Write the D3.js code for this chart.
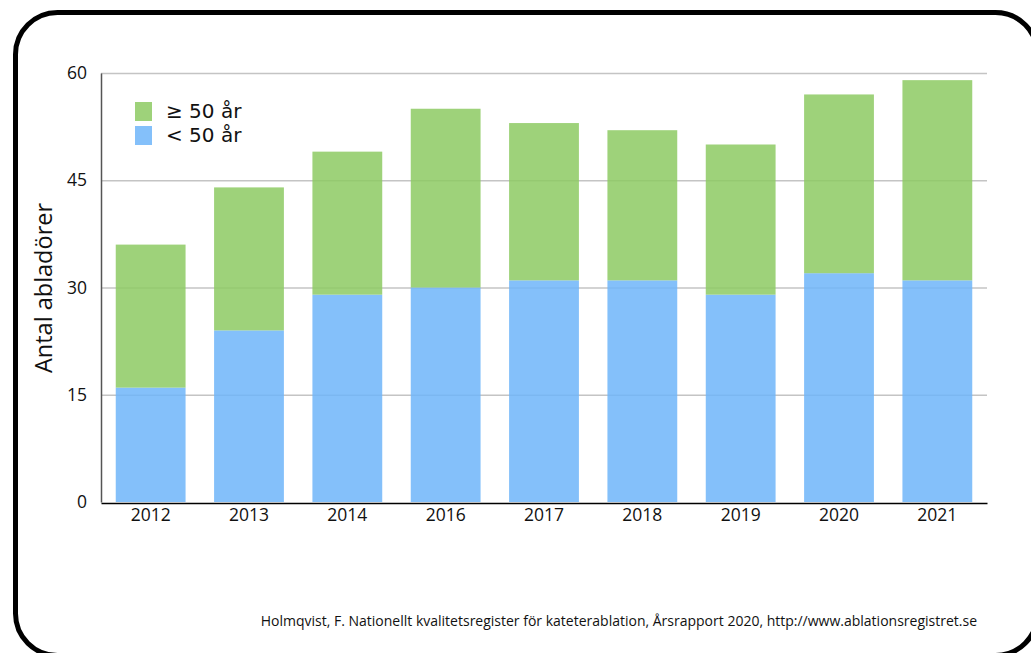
<!DOCTYPE html>
<html><head><meta charset="utf-8">
<script src="https://cdn.jsdelivr.net/npm/d3@7/dist/d3.min.js"></script>
<style>body{margin:0;background:#fff}svg{display:block}text{font-family:"Open Sans","Noto Sans",sans-serif}</style>
</head><body><svg id="c" width="1031" height="653"></svg>
<script>
const years = ["2012","2013","2014","2016","2017","2018","2019","2020","2021"];
const under50 = [16, 24, 29, 30, 31, 31, 29, 32, 31];
const over50 = [20, 20, 20, 25, 22, 21, 21, 25, 28];
const yTicks = [0, 15, 30, 45, 60];
const seriesNames = ["≥ 50 år", "< 50 år"];
const colors = {under: "rgb(111,181,249)", over: "rgb(141,202,99)"};

const svg = d3.select("#c");
svg.append("rect").attr("x",15.5).attr("y",12.5).attr("width",1022).attr("height",643)
  .attr("rx",42).attr("ry",42).attr("fill","none").attr("stroke","#000").attr("stroke-width",5);

const L=101, R=987, T=73, B=502;
const x = d3.scaleBand().domain(years).range([L,R]).paddingInner(0.29).paddingOuter(0.15);
const y = d3.scaleLinear().domain([0,60]).range([B,T]);

// grid
svg.append("g").selectAll("line").data(yTicks.filter(d=>d>0)).join("line")
  .attr("x1",L).attr("x2",R).attr("y1",d=>y(d)+0.5).attr("y2",d=>y(d)+0.5)
  .attr("stroke","#c4c4c4").attr("stroke-width",1.3);

const data = years.map((yr,i)=>({year:yr, under:under50[i], over:over50[i]}));
const stack = d3.stack().keys(["under","over"])(data);
svg.append("g").selectAll("g").data(stack).join("g")
  .attr("fill",d=>colors[d.key]).attr("fill-opacity",0.85)
  .selectAll("rect").data(d=>d).join("rect")
  .attr("x",d=>x(d.data.year)).attr("width",x.bandwidth())
  .attr("y",d=>y(d[1])).attr("height",d=>y(d[0])-y(d[1]));

// axes
const yAxis = svg.append("g").attr("transform",`translate(${L},0)`)
  .call(d3.axisLeft(y).tickValues(yTicks).tickSize(0).tickPadding(14));
yAxis.select(".domain").attr("stroke","#555").attr("stroke-width",1.5);
yAxis.selectAll("text").attr("font-size",17.5).attr("fill","#111");

const xAxis = svg.append("g").attr("transform",`translate(0,${B+1})`)
  .call(d3.axisBottom(x).tickSize(0).tickPadding(6));
xAxis.select(".domain").attr("stroke","#000").attr("stroke-width",1.5);
xAxis.selectAll("text").attr("font-size",17.5).attr("fill","#111");

svg.append("text").attr("transform","translate(52,288) rotate(-90)")
  .attr("text-anchor","middle").attr("font-size",23.5).attr("fill","#111").text("Antal abladörer");

// legend
const leg = svg.append("g");
const legColors = [colors.over, colors.under];
seriesNames.forEach((n,i)=>{
  leg.append("rect").attr("x",135).attr("y",102+i*24).attr("width",17).attr("height",19)
    .attr("fill",legColors[i]).attr("fill-opacity",0.85);
  leg.append("text").attr("x",166).attr("y",118+i*24)
    .style("font-family","'DejaVu Sans',sans-serif").attr("font-size",20).attr("fill","#111").text(n);
});

svg.append("text").attr("x",977).attr("y",626).attr("text-anchor","end")
  .attr("font-size",14).attr("fill","#111")
  .text("Holmqvist, F. Nationellt kvalitetsregister för kateterablation, Årsrapport 2020, http://www.ablationsregistret.se");
</script></body></html>
